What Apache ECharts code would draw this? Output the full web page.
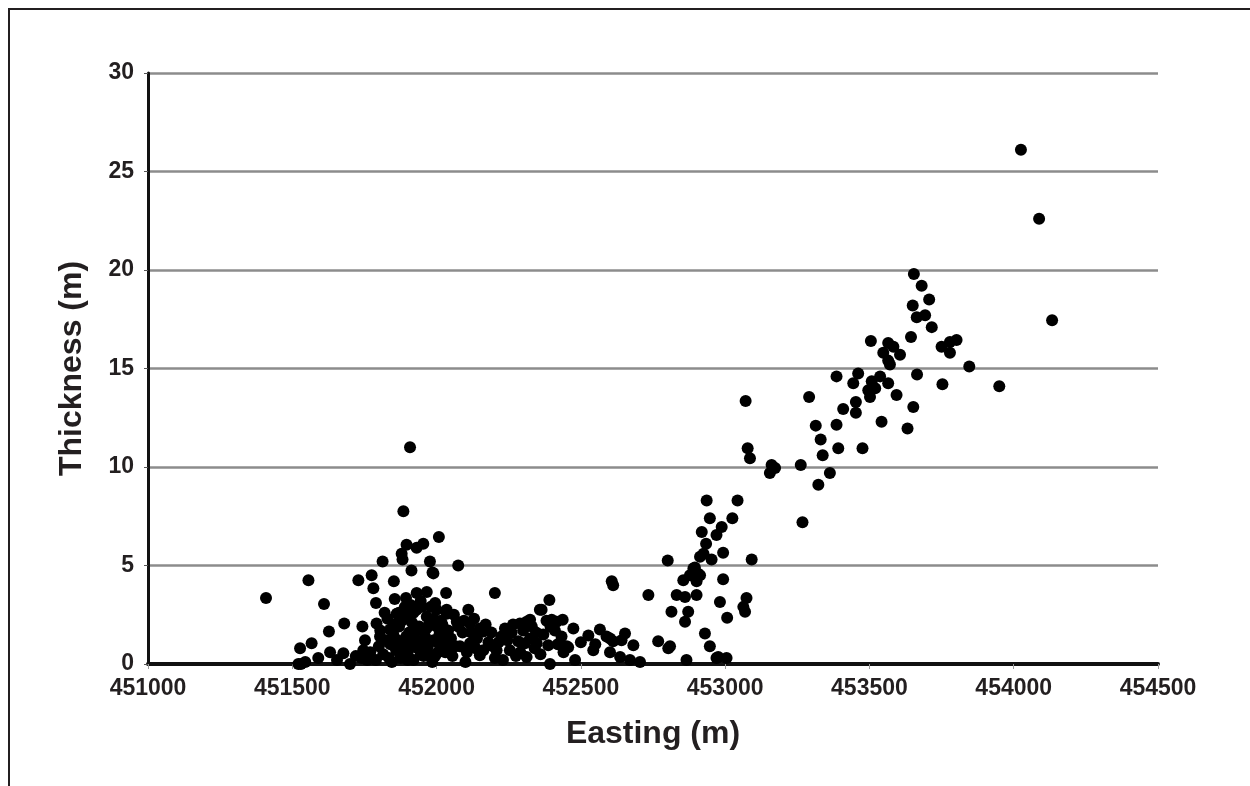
<!DOCTYPE html>
<html>
<head>
<meta charset="utf-8">
<script src="https://cdn.jsdelivr.net/npm/echarts@6/dist/echarts.min.js"></script>
<style>
html,body{margin:0;padding:0;background:#fff;}
#chart{width:1250px;height:786px;}
</style>
</head>
<body>
<div id="chart"></div>
<script>
// Easting (m) and thickness (m) of each sample
const easting = [
  454025,454088,454133,453950,453846,453654,453681,453707,453650,453664,453693,453716,453644,453750,453779,453802,453779,
  453505,453565,453583,453548,453606,453565,453571,453386,453461,453444,453508,453537,453565,453496,453520,453502,453594,
  453665,453753,453291,453409,453453,453453,453652,453314,453386,453542,453632,453331,453392,453476,453338,453262,453363,
  453323,453268,453071,453078,453086,453161,453173,453155,
  452936,453043,452947,453025,452988,452970,452919,452934,452993,452953,453092,452993,453074,453063,453069,452982,453007,
  452930,452947,452976,453005,452913,452801,452890,452878,452913,452855,452901,452607,452612,452734,452832,452861,452901,
  452814,452872,452861,452768,452803,452866,452970,452895,452905,452925,
  452437,452474,452526,452566,452589,452612,452653,452682,452641,452543,452601,452451,452480,452670,452705,452636,452391,
  452364,452324,452399,452601,452289,452306,452347,452393,452456,452809,452075,452202,452033,451989,451995,452035,452110,
  452070,452162,452116,452237,452312,452358,452381,452416,452433,452387,452324,452283,452254,452208,452162,452150,452116,
  452081,452023,452000,452312,452202,452140,452180,452225,452260,452275,452345,452410,452360,452440,452500,452550,452090,
  452055,452100,452040,452060,452130,452230,452290,
  451908,451885,452008,451954,451931,451896,451879,451882,451813,451977,451986,451913,451852,451775,451729,451781,451556,
  451409,451610,451790,451894,451931,451966,451627,451680,451743,451527,451567,451521,451631,451677,451700,451752,451746,
  451590,451792,451804,451839,451862,451896,451931,451966,452000,452035,
  451790,451800,451815,451825,451830,451845,451850,451860,451870,451875,451885,451890,451900,451905,451915,451920,451925,
  451935,451940,451950,451955,451960,451970,451975,451985,451990,452005,452010,452015,452045,451760,451770,451740,451720,
  451655,451855,451910,451945,451980,451870,451530,451545,
  451805,451820,451835,451840,451855,451865,451880,451880,451895,451900,451910,451920,451930,451945,451950,451965,451975,
  451990,451995,452010,452020,452030,452050,452065,452075,452095,452105,452120,452135,452150,452170,452190,452195,452215,
  452245,452265,452300,452330,452340,452370,452395,452420
];
const thickness = [
  26.1,22.6,17.45,14.1,15.1,19.8,19.2,18.5,18.2,17.6,17.7,17.1,16.6,16.1,16.35,16.45,15.8,
  16.4,16.3,16.1,15.8,15.7,15.4,15.2,14.6,14.75,14.25,14.35,14.6,14.25,13.9,14.0,13.55,13.65,
  14.7,14.2,13.55,12.95,13.3,12.75,13.05,12.1,12.15,12.3,11.95,11.4,10.95,10.95,10.6,10.1,9.7,
  9.1,7.2,13.35,10.95,10.45,10.1,9.95,9.7,
  8.3,8.3,7.4,7.4,6.95,6.55,6.7,6.1,5.65,5.3,5.3,4.3,3.35,2.9,2.65,3.15,2.35,
  1.55,0.9,0.35,0.3,5.45,5.25,4.85,4.5,4.5,4.25,4.2,4.2,4.0,3.5,3.5,3.4,3.5,
  2.65,2.65,2.15,1.15,0.8,0.2,0.3,4.9,4.6,5.6,
  2.25,1.8,1.45,1.75,1.4,1.15,1.55,0.95,1.2,0.7,0.6,0.9,0.2,0.2,0.1,0.35,3.25,
  2.75,2.25,2.25,1.3,2.05,1.05,1.05,0.0,0.85,0.9,5.0,3.6,3.6,4.6,3.1,2.75,2.75,
  2.15,1.65,2.05,1.8,2.15,2.75,2.2,2.15,1.4,0.95,1.3,1.15,0.7,0.7,0.7,0.45,1.05,
  0.9,1.2,1.9,0.35,0.3,1.3,1.1,1.4,1.6,0.4,1.6,1.7,0.5,0.6,1.1,1.0,1.6,
  0.4,0.1,1.7,2.5,2.3,0.2,0.6,
  11.0,7.75,6.45,6.1,5.9,6.05,5.6,5.3,5.2,5.2,4.65,4.75,4.2,4.5,4.25,3.85,4.25,
  3.35,3.05,3.1,3.35,3.6,3.65,1.65,2.05,1.9,0.8,1.05,0.0,0.6,0.55,0.0,1.2,0.7,
  0.3,2.05,1.4,1.75,2.55,2.4,2.75,2.4,2.75,2.55,
  0.2,0.9,0.5,1.2,2.3,0.1,1.5,0.7,1.9,0.3,1.1,2.9,0.6,1.6,2.1,0.2,1.3,
  0.8,1.9,2.9,0.4,1.4,0.9,2.0,0.1,1.2,0.6,1.5,2.2,0.9,0.2,0.6,0.3,0.4,
  0.2,3.3,3.0,3.2,2.9,2.6,0.0,0.1,
  1.7,2.6,0.3,1.0,2.0,1.2,0.8,2.2,1.4,0.2,1.0,2.6,1.7,0.5,1.1,1.8,0.5,
  2.3,0.4,1.0,2.0,0.6,1.3,0.9,1.9,2.2,0.6,1.6,0.8,1.8,2.0,1.6,0.9,1.1,
  1.2,2.0,1.7,1.9,0.8,1.5,1.9,1.0
];
const xTicks = [451000, 451500, 452000, 452500, 453000, 453500, 454000, 454500];
const yTicks = [0, 5, 10, 15, 20, 25, 30];

const points = easting.map((e, i) => [e, thickness[i]]);
const font = '"Liberation Sans", Arial, sans-serif';

const chart = echarts.init(document.getElementById('chart'), null, {renderer: 'canvas'});
chart.setOption({
  animation: false,
  backgroundColor: '#ffffff',
  grid: {left: 148, right: 92, top: 73, bottom: 122, containLabel: false},
  graphic: [{
    type: 'rect', z: -1,
    shape: {x: 9, y: 9, width: 1300, height: 850},
    style: {fill: 'none', stroke: '#231f20', lineWidth: 2}
  }],
  xAxis: {
    type: 'value',
    min: xTicks[0], max: xTicks[xTicks.length - 1], interval: 500,
    name: 'Easting (m)', nameLocation: 'middle', nameGap: 54,
    nameTextStyle: {fontFamily: font, fontWeight: 'bold', fontSize: 32, color: '#231f20'},
    axisLine: {show: true, onZero: false, lineStyle: {color: '#111', width: 4}},
    axisTick: {show: true, length: 5, lineStyle: {color: '#999', width: 1}},
    axisLabel: {fontFamily: font, fontWeight: 'bold', fontSize: 23, color: '#231f20', margin: 13,
      formatter: v => String(v)},
    splitLine: {show: false}
  },
  yAxis: {
    type: 'value',
    min: yTicks[0], max: yTicks[yTicks.length - 1], interval: 5,
    name: 'Thickness (m)', nameLocation: 'middle', nameGap: 60,
    nameTextStyle: {fontFamily: font, fontWeight: 'bold', fontSize: 32, color: '#231f20'},
    axisLine: {show: true, onZero: false, lineStyle: {color: '#111', width: 3}},
    axisTick: {show: true, length: 4, lineStyle: {color: '#555', width: 1}},
    axisLabel: {fontFamily: font, fontWeight: 'bold', fontSize: 23, color: '#231f20', margin: 14},
    splitLine: {show: true, lineStyle: {color: '#8c8c8c', width: 2.5}}
  },
  series: [{
    type: 'scatter',
    data: points,
    symbol: 'circle',
    symbolSize: 12,
    itemStyle: {color: '#000000', opacity: 1},
    z: 5
  }]
});
</script>
</body>
</html>
